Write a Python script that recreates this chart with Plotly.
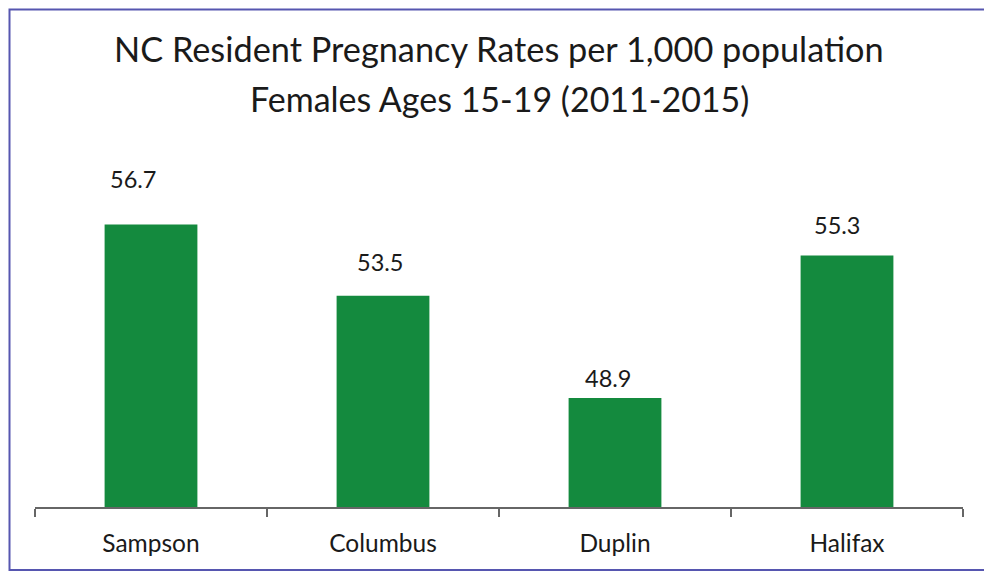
import plotly.graph_objects as go

counties = ["Sampson", "Columbus", "Duplin", "Halifax"]
rates = [56.7, 53.5, 48.9, 55.3]
label_texts = ["56.7", "53.5", "48.9", "55.3"]
title_lines = ["NC Resident Pregnancy Rates per 1,000 population",
               "Females Ages 15-19 (2011-2015)"]

# label offsets (pixels) reproducing manual label placement
label_dx = [-18, -3, -7, -10]
label_dy = [45, 34, 20, 31]

FONT = "Lato"
OFF = 8  # page body margin
W, H = 992 - OFF, 575 - OFF
# plot area in page pixels: x 35..963, y 151..507
L = 35 - OFF
R = W - (963 - OFF)
T = 151 - OFF
B = H - (507 - OFF)
plot_w = W - L - R
plot_h = H - T - B

fig = go.Figure()
fig.add_trace(go.Bar(
    x=counties, y=rates,
    marker=dict(color="#148a3e", line=dict(width=0)),
    hoverinfo="x+y",
))

for c, v, t, dx, dy in zip(counties, rates, label_texts, label_dx, label_dy):
    fig.add_annotation(x=c, y=v, text=t, showarrow=False, xanchor="center",
                       yanchor="middle", xshift=dx, yshift=dy,
                       font=dict(family=FONT, size=23.5, color="#1a1a1a"))

def py(Y):
    # Y in page pixels
    return (507 - Y) / plot_h

def px(X):
    return (X - 35) / plot_w

fig.add_annotation(xref="paper", yref="paper", x=0.5, y=py(48), text=title_lines[0],
                   showarrow=False, xanchor="center", yanchor="middle",
                   font=dict(family=FONT, size=34.3, color="#1a1a1a"))
fig.add_annotation(xref="paper", yref="paper", x=0.5, y=py(98), text=title_lines[1],
                   showarrow=False, xanchor="center", yanchor="middle",
                   font=dict(family=FONT, size=34, color="#1a1a1a"))

# outer frame, kept inside the figure canvas
fig.add_shape(type="rect", xref="paper", yref="paper",
              x0=px(OFF + 1.5), x1=px(988), y0=py(570), y1=py(OFF + 1.5),
              line=dict(color="#5656b0", width=2), layer="below")

fig.update_layout(
    width=W, height=H,
    margin=dict(l=L, r=R, t=T, b=B, pad=0),
    paper_bgcolor="white", plot_bgcolor="white",
    bargap=0.6, showlegend=False,
    xaxis=dict(showline=True, linecolor="#666666", linewidth=1.5,
               ticks="outside", tickson="boundaries", ticklen=8,
               tickcolor="#666666", tickwidth=1.5,
               ticklabelstandoff=14,
               tickfont=dict(family=FONT, size=24.5, color="#1a1a1a"),
               showgrid=False, zeroline=False),
    yaxis=dict(range=[44, 60], visible=False, showgrid=False, zeroline=False),
)

fig.write_html("out.html")
